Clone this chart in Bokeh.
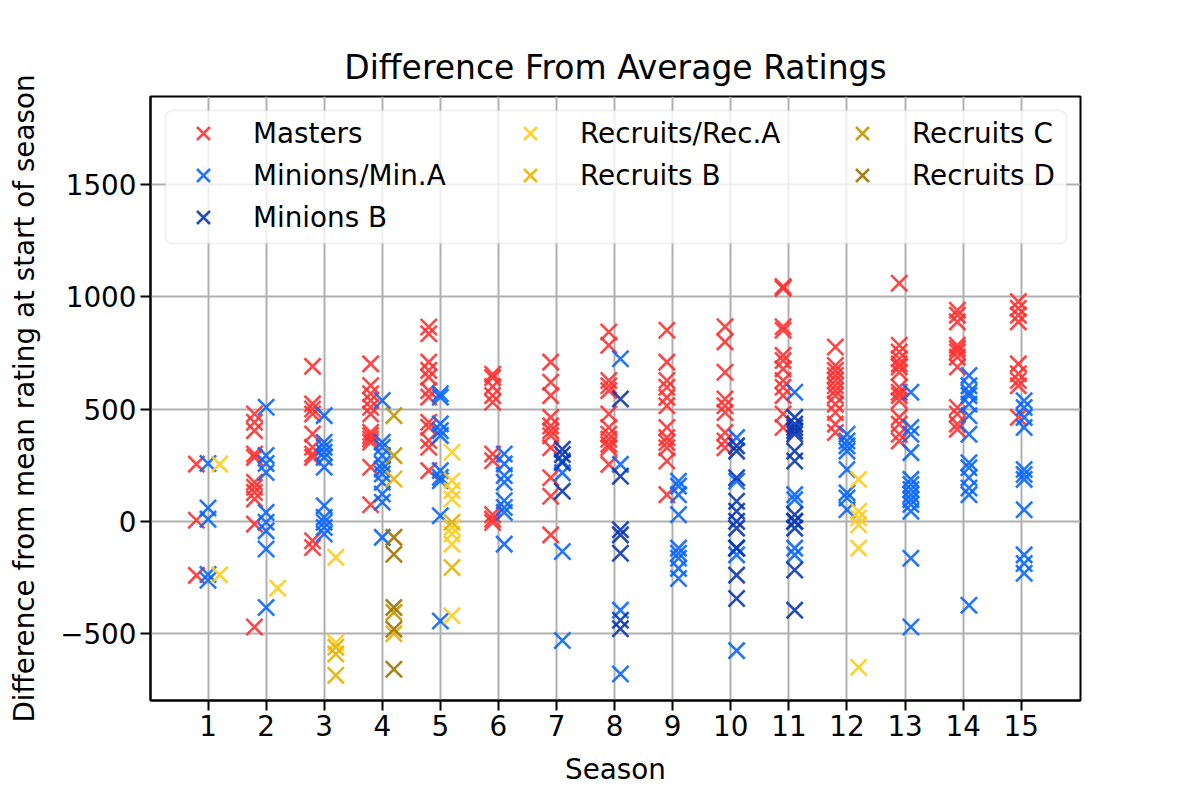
from bokeh.plotting import figure
from bokeh.models import (FixedTicker, CustomJSTickFormatter, Legend, LegendItem,
                          BoxAnnotation, Range1d)
from bokeh.embed import file_html
from bokeh.resources import INLINE

# ---------------- data ----------------
seasons = list(range(1, 16))
y_ticks = [-500, 0, 500, 1000, 1500]

masters = {
    1: [255, 5, -240],
    2: [478, 441, 404, 300, 285, 174, 152, 129, 100, -12, -470],
    3: [690, 523, 500, 478, 389, 330, 300, 285, -86, -116],
    4: [701, 605, 568, 538, 508, 478, 397, 382, 367, 352, 241, 74],
    5: [865, 835, 709, 672, 642, 582, 553, 441, 419, 360, 330, 226],
    6: [655, 640, 600, 560, 530, 300, 270, 30, 10, -5],
    7: [709, 619, 560, 463, 425, 403, 381, 328, 194, 112, -60],
    8: [843, 784, 627, 604, 582, 478, 418, 388, 366, 343, 328, 254],
    9: [851, 709, 627, 597, 552, 515, 418, 373, 351, 328, 269, 119],
    10: [866, 799, 664, 545, 515, 485, 396, 358, 328],
    11: [1045, 1037, 866, 851, 739, 716, 679, 627, 597, 560, 478, 418],
    12: [776, 694, 672, 649, 627, 604, 582, 560, 522, 485, 433, 396],
    13: [1060, 784, 754, 724, 701, 687, 664, 597, 575, 560, 537, 463, 433, 388, 358],
    14: [940, 918, 888, 784, 769, 754, 731, 687, 507, 478, 433, 410],
    15: [978, 948, 918, 888, 701, 657, 627, 604, 463],
}
minions_a = {
    1: [258, 60, 10, -236, -262],
    2: [508, 293, 258, 218, 40, -4, -42, -123, -383],
    3: [471, 352, 330, 308, 285, 241, 70, 18, -4, -27, -56],
    4: [538, 352, 330, 293, 256, 233, 211, 174, 122, 85, -71],
    5: [568, 553, 434, 404, 382, 226, 196, 181, 25, -443],
    6: [300, 256, 204, 174, 92, 62, 40, -101],
    7: [269, 216, -134, -530],
    8: [724, 254, -395, -679],
    9: [179, 157, 119, 30, -119, -142, -164, -209, -254],
    10: [373, 179, -119, -149, -575],
    11: [575, 119, 97, 0, -119, -149],
    12: [388, 358, 336, 313, 231, 127, 104, 52],
    13: [575, 418, 388, 306, 187, 164, 142, 119, 97, 75, 45, -164, -470],
    14: [649, 604, 575, 560, 522, 470, 388, 261, 239, 194, 149, 119, -373],
    15: [537, 507, 463, 418, 231, 209, 187, 52, -149, -187, -231],
}
minions_b = {
    7: [321, 298, 261, 134],
    8: [545, 201, -37, -60, -142, -440, -478],
    10: [336, 313, 194, 90, 45, 0, -30, -119, -239, -343],
    11: [463, 433, 418, 403, 388, 313, 269, 30, 0, -30, -216, -395],
}
recruits_a = {
    1: [255, -238],
    2: [-297],
    3: [-160, -540],
    5: [308, 181, 137, 100, -27, -56, -101, -420],
    12: [187, 45, 15, -15, -119, -649],
}
recruits_b = {
    3: [-560, -590, -685],
    4: [189, -500],
    5: [-4, -205],
}
recruits_c = {
    4: [471, 293, -405],
}
recruits_d = {
    4: [-71, -146, -383, -480, -658],
}

groups = [
    ("Masters", masters, 0, "#ff3131"),
    ("Minions/Min.A", minions_a, 1, "#0a66ff"),
    ("Minions B", minions_b, 1, "#0a36b4"),
    ("Recruits/Rec.A", recruits_a, 2, "#ffcc1c"),
    ("Recruits B", recruits_b, 2, "#e4b200"),
    ("Recruits C", recruits_c, 2, "#c49600"),
    ("Recruits D", recruits_d, 2, "#9c7400"),
]

# seasons that had a recruits tier use a wider spread of tier offsets
recruit_seasons = set()
for _, d, tier, _c in groups:
    if tier == 2:
        recruit_seasons.update(d.keys())


def tier_offset(season, tier):
    if season in recruit_seasons:
        return [-0.2, 0.0, 0.2][tier]
    s = 0.05 if season == 15 else 0.1
    return [-s, s, s][tier]


FONT = "DejaVu Sans"
p = figure(frame_width=930, frame_height=604,
           x_range=Range1d(0.01, 16.02), y_range=Range1d(-797, 1891),
           output_backend="svg", toolbar_location=None,
           min_border_left=150, min_border_right=120,
           min_border_top=96, min_border_bottom=100,
           title="Difference From Average Ratings")
p.background_fill_color = "white"
p.border_fill_color = "white"
p.outline_line_color = "black"
p.outline_line_width = 2

p.title.align = "center"
p.title.text_font = FONT
p.title.text_font_size = "33px"
p.title.text_font_style = "normal"
p.title.text_color = "black"
p.title.standoff = 19

for ax in (p.xaxis[0], p.yaxis[0]):
    ax.major_label_text_font = FONT
    ax.major_label_text_font_size = "27.8px"
    ax.major_label_text_color = "black"
    ax.axis_label_text_font = FONT
    ax.axis_label_text_font_size = "27.8px"
    ax.axis_label_text_font_style = "normal"
    ax.axis_label_text_color = "black"
    ax.major_tick_out = 10
    ax.major_tick_in = 0
    ax.minor_tick_out = 0
    ax.minor_tick_in = 0
    ax.major_tick_line_width = 2
    ax.major_tick_line_color = "black"
    ax.axis_line_width = 2
    ax.axis_line_color = "black"
    ax.major_label_standoff = 4

p.xaxis.ticker = FixedTicker(ticks=seasons)
p.yaxis.ticker = FixedTicker(ticks=y_ticks)
p.yaxis.formatter = CustomJSTickFormatter(
    code="return tick < 0 ? '\u2212' + Math.abs(tick) : String(tick);")
p.xaxis.axis_label = "Season"
p.yaxis.axis_label = "Difference from mean rating at start of season"
p.xaxis.axis_label_standoff = 14
p.yaxis.axis_label_standoff = 16

p.xgrid.ticker = FixedTicker(ticks=seasons)
p.ygrid.ticker = FixedTicker(ticks=y_ticks)
for g in (p.xgrid[0], p.ygrid[0]):
    g.grid_line_color = "#b0b0b0"
    g.grid_line_width = 2

renderers = {}
for name, data, tier, color in groups:
    xs, ys = [], []
    for s, vals in data.items():
        for v in vals:
            xs.append(s + tier_offset(s, tier))
            ys.append(v)
    r = p.scatter(xs, ys, marker="x", size=23, line_color=color,
                  line_width=2.6, line_alpha=0.9)
    renderers[name] = r

# legend frame (matplotlib style)
frame = BoxAnnotation(left=165, right=1066, top=110, bottom=243,
                      left_units="canvas", right_units="canvas",
                      top_units="canvas", bottom_units="canvas",
                      fill_color="white", fill_alpha=0.8,
                      line_color="#d0d0d0", line_width=2, border_radius=7,
                      level="annotation")
p.add_layout(frame)

# legend laid out like matplotlib's ncol=3 (column-major: 3, 2, 2 entries)
columns = [
    ["Masters", "Minions/Min.A", "Minions B"],
    ["Recruits/Rec.A", "Recruits B"],
    ["Recruits C", "Recruits D"],
]
col_x = [25, 352, 684]
row_center = [133, 175, 217]  # canvas y of each legend row centre
ITEM_H = 46
for names, vx in zip(columns, col_x):
    for nm, cy in zip(names, row_center):
        vy = (96 + 604) - (cy + ITEM_H // 2)
        leg = Legend(items=[LegendItem(label=nm, renderers=[renderers[nm]])],
                     location=(vx, vy), orientation="vertical",
                     border_line_alpha=0, background_fill_alpha=0,
                     label_text_font=FONT, label_text_font_size="27.8px",
                     label_text_color="black",
                     glyph_width=56, glyph_height=ITEM_H, label_height=ITEM_H,
                     label_standoff=22, spacing=0, padding=0, margin=0)
        p.add_layout(leg)

open("out.html", "w").write(file_html(p, INLINE))
